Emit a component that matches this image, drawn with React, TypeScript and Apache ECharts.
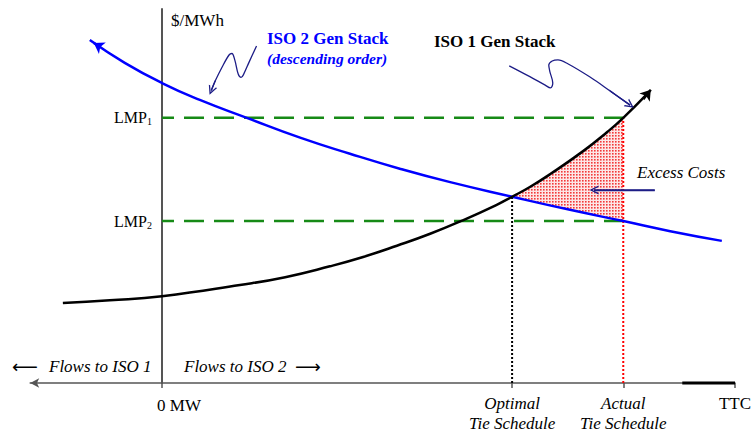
import React, { useEffect, useRef } from "react";
import * as echarts from "echarts";

// ---- axis ranges (MW on x, $/MWh on y, arbitrary units) ----
const X_MIN = -23;
const X_MAX = 100;
const Y_MIN = 0;
const Y_MAX = 100;

// ---- key levels ----
const LMP1 = 70.9;
const LMP2 = 43.3;
const OPTIMAL = 61.1;
const OPTIMAL_PRICE = 49.8;
const ACTUAL = 80.5;
const TTC = 100;
const TTC_SEGMENT_START = 90.8;

// ---- supply curves ----
const iso1Stack: [number, number][] = [
  [-17.3, 21.4], [-9.1, 22.1], [0, 23.2], [13.6, 26.2], [21.5, 28.3], [29.3, 31.2],
  [35.1, 33.7], [41.0, 36.7], [46.8, 39.9], [52.5, 43.5], [58.5, 47.7], [61.1, 49.8],
  [64.2, 52.4], [67.7, 55.8], [73.5, 62.0], [77.7, 67.1], [80.5, 70.9], [84.8, 77.5],
];
const iso1ArrowHead: [number, number][] = [[84.0, 75.9], [85.3, 78.4]];

const iso2Stack: [number, number][] = [
  [-12.6, 91.7], [-6.5, 85.6], [0, 80.2], [6.6, 75.7], [14.8, 70.9], [24.1, 65.6],
  [32.8, 61.3], [41.5, 57.3], [50.3, 53.7], [61.1, 49.8], [71.2, 46.3], [80.5, 43.3],
  [88.7, 40.6], [97.7, 38.0],
];
const iso2ArrowHead: [number, number][] = [[-10.7, 89.8], [-11.9, 90.9]];

// ---- annotation pointers ----
const iso2Pointer: [number, number][] = [
  [16.5, 90.1], [15.2, 85.8], [14.2, 82.4], [13.8, 81.7], [13.3, 82.6], [12.7, 86.4],
  [12.2, 88.1], [11.7, 87.7], [10.5, 84.5], [9.3, 80.8], [8.6, 78.2],
];
const iso1Pointer: [number, number][] = [
  [60.6, 84.8], [64.2, 81.9], [66.8, 79.7], [67.8, 78.9], [68.2, 80.2], [67.7, 83.2],
  [67.5, 85.0], [68.1, 86.1], [69.1, 86.4], [70.9, 85.3], [74.7, 81.8], [78.2, 78.1],
  [81.7, 74.3],
];
const excessPointer: [number, number][] = [[86.0, 51.6], [75.4, 51.6]];

// ---- tick labels ----
const xTickValues = [0, OPTIMAL, ACTUAL, TTC];
const xTickLabels = ["0 MW", "Optimal\nTie Schedule", "Actual\nTie Schedule", "TTC"];
const yTickValues = [LMP1, LMP2];
const yTickSubscripts = ["1", "2"];

const SERIF = '"Liberation Serif", "Times New Roman", serif';
const NAVY = "#1c1c86";
const GREEN = "#168a16";
const CHEVRON = "path://M0,10 L5,0 L10,10 L8.4,10 L5,3.2 L1.6,10 Z";

const GRID_LEFT = 30.2;
const GRID_RIGHT = 19;
const GRID_TOP = 9;
const GRID_BOTTOM = 51;
const CHART_W = 754;

function arrowMark(pts: [number, number][], color: string, width: number, symbol: string, size: number) {
  return {
    silent: true,
    animation: false,
    symbol: ["none", symbol],
    symbolSize: size,
    label: { show: false },
    emphasis: { disabled: true },
    lineStyle: { color, width, type: "solid" },
    data: [[{ coord: pts[0] }, { coord: pts[1] }]],
  };
}

function plainLine(data: [number, number][], lineStyle: any, extra: any = {}) {
  return {
    type: "line",
    data,
    symbol: "none",
    showSymbol: false,
    silent: true,
    lineStyle,
    ...extra,
  };
}

function dotPattern(): any {
  const c = document.createElement("canvas");
  c.width = 3;
  c.height = 3;
  const ctx = c.getContext("2d");
  if (!ctx) return "#f7a6a6";
  ctx.fillStyle = "#fde6e6";
  ctx.fillRect(0, 0, 3, 3);
  ctx.fillStyle = "#f23a3a";
  ctx.fillRect(0, 0, 1.6, 1.6);
  return { image: c, repeat: "repeat" };
}

export default function App() {
  const ref = useRef<HTMLDivElement>(null);

  useEffect(() => {
    if (!ref.current) return;
    const chart = echarts.init(ref.current, undefined, { renderer: "svg" });

    const inExcess = (p: [number, number]) => p[0] >= OPTIMAL && p[0] <= ACTUAL;
    const excessPolygon = [
      ...iso1Stack.filter(inExcess),
      ...iso2Stack.filter(inExcess).reverse(),
    ];
    const plotW = CHART_W - GRID_LEFT - GRID_RIGHT;
    const zeroOffset = ((0 - X_MIN) / (X_MAX - X_MIN)) * plotW;
    const pattern = dotPattern();

    const textStyle = (font: string, fill = "#000") => ({ font, fill });

    chart.setOption({
      animation: false,
      grid: {
        left: GRID_LEFT,
        right: GRID_RIGHT,
        top: GRID_TOP,
        bottom: GRID_BOTTOM,
        containLabel: false,
        outerBoundsMode: "none",
      },
      xAxis: {
        type: "value",
        min: X_MIN,
        max: X_MAX,
        splitLine: { show: false },
        axisLine: {
          show: true,
          onZero: false,
          symbol: ["arrow", "none"],
          symbolSize: [7, 9],
          lineStyle: { color: "#555", width: 1.5 },
        },
        axisTick: {
          show: true,
          customValues: xTickValues,
          length: 5,
          lineStyle: { color: "#555", width: 1.5 },
        },
        axisLabel: {
          customValues: xTickValues,
          margin: 10,
          formatter: (v: number) => {
            const i = xTickValues.indexOf(v);
            if (i === 0) return `{z|${xTickLabels[0]}}`;
            if (i === 3) return `{r|${xTickLabels[3]}}`;
            return xTickLabels[i]
              .split("\n")
              .map((s) => `{i|${s}}`)
              .join("\n");
          },
          rich: {
            z: { fontFamily: SERIF, fontSize: 17, color: "#000", padding: [5, 0, 0, 34], lineHeight: 20 },
            r: { fontFamily: SERIF, fontSize: 17, color: "#000", lineHeight: 20 },
            i: { fontFamily: SERIF, fontSize: 17, fontStyle: "italic", color: "#000", lineHeight: 20 },
          },
        },
      },
      yAxis: {
        type: "value",
        min: Y_MIN,
        max: Y_MAX,
        offset: -zeroOffset,
        splitLine: { show: false },
        axisLine: { show: true, onZero: false, lineStyle: { color: "#555", width: 2 } },
        axisTick: { show: false },
        axisLabel: {
          customValues: yTickValues,
          margin: 10,
          formatter: (v: number) => `{m|LMP}{s|${yTickSubscripts[yTickValues.indexOf(v)]}}`,
          rich: {
            m: { fontFamily: SERIF, fontSize: 16, color: "#000", lineHeight: 18 },
            s: { fontFamily: SERIF, fontSize: 10, color: "#000", verticalAlign: "bottom", lineHeight: 18 },
          },
        },
      },
      series: [
        {
          type: "custom",
          silent: true,
          clip: false,
          z: 1,
          data: [[OPTIMAL, OPTIMAL_PRICE]],
          renderItem: (_params: any, api: any) => ({
            type: "polygon",
            shape: { points: excessPolygon.map((p) => api.coord(p)) },
            style: { fill: pattern },
          }),
        },
        plainLine([[0, LMP1], [ACTUAL, LMP1]], { color: GREEN, width: 2.5, type: [20, 10], dashOffset: 8 }),
        plainLine([[0, LMP2], [ACTUAL, LMP2]], { color: GREEN, width: 2.5, type: [20, 10], dashOffset: 8 }),
        plainLine([[OPTIMAL, 0], [OPTIMAL, OPTIMAL_PRICE]], { color: "#000", width: 2, type: [2, 2] }),
        plainLine([[ACTUAL, 0], [ACTUAL, LMP1]], { color: "#ff0000", width: 2, type: [2, 2] }),
        plainLine([[TTC_SEGMENT_START, 0], [TTC, 0]], { color: "#000", width: 3 }, { clip: false }),
        plainLine(iso2Stack, { color: "#0000ff", width: 2.5 }, {
          smooth: 0.5,
          z: 3,
          markLine: arrowMark(iso2ArrowHead, "#0000ff", 2.5, "arrow", 10),
        }),
        plainLine(iso1Stack, { color: "#000", width: 2.5 }, {
          smooth: 0.5,
          z: 3,
          markLine: arrowMark(iso1ArrowHead, "#000", 2.5, "arrow", 10),
        }),
        plainLine(iso2Pointer, { color: NAVY, width: 1.3 }, {
          smooth: 0.35,
          markLine: arrowMark([iso2Pointer[9], iso2Pointer[10]], NAVY, 1.3, CHEVRON, 9),
        }),
        plainLine(iso1Pointer, { color: NAVY, width: 1.3 }, {
          smooth: 0.35,
          markLine: arrowMark([iso1Pointer[11], iso1Pointer[12]], NAVY, 1.3, CHEVRON, 9),
        }),
        plainLine(excessPointer, { color: NAVY, width: 1.3 }, {
          markLine: arrowMark(excessPointer, NAVY, 1.3, CHEVRON, 9),
        }),
      ],
      graphic: [
        { type: "text", x: 171, y: 20, style: { text: "$/MWh", ...textStyle(`17px ${SERIF}`), verticalAlign: "middle" } },
        { type: "text", x: 267, y: 38, style: { text: "ISO 2 Gen Stack", ...textStyle(`bold 17px ${SERIF}`, "#0000ff"), verticalAlign: "middle" } },
        { type: "text", x: 267, y: 58, style: { text: "(descending order)", ...textStyle(`italic bold 15.5px ${SERIF}`, "#0000ff"), verticalAlign: "middle" } },
        { type: "text", x: 434, y: 41, style: { text: "ISO 1 Gen Stack", ...textStyle(`bold 17px ${SERIF}`), verticalAlign: "middle" } },
        { type: "text", x: 637, y: 172, style: { text: "Excess Costs", ...textStyle(`italic 17px ${SERIF}`), verticalAlign: "middle" } },
        { type: "text", x: 49, y: 366, style: { text: "Flows to ISO 1", ...textStyle(`italic 17px ${SERIF}`), verticalAlign: "middle" } },
        { type: "text", x: 184, y: 366, style: { text: "Flows to ISO 2", ...textStyle(`italic 17px ${SERIF}`), verticalAlign: "middle" } },
        { type: "text", x: 12, y: 366, style: { text: "⟵", ...textStyle(`18px "DejaVu Sans"`), verticalAlign: "middle" } },
        { type: "text", x: 295, y: 366, style: { text: "⟶", ...textStyle(`18px "DejaVu Sans"`), verticalAlign: "middle" } },
      ],
    });

    return () => chart.dispose();
  }, []);

  return (
    <div
      ref={ref}
      style={{ position: "fixed", left: 0, top: 0, width: 754, height: 434, background: "#fff" }}
    />
  );
}
